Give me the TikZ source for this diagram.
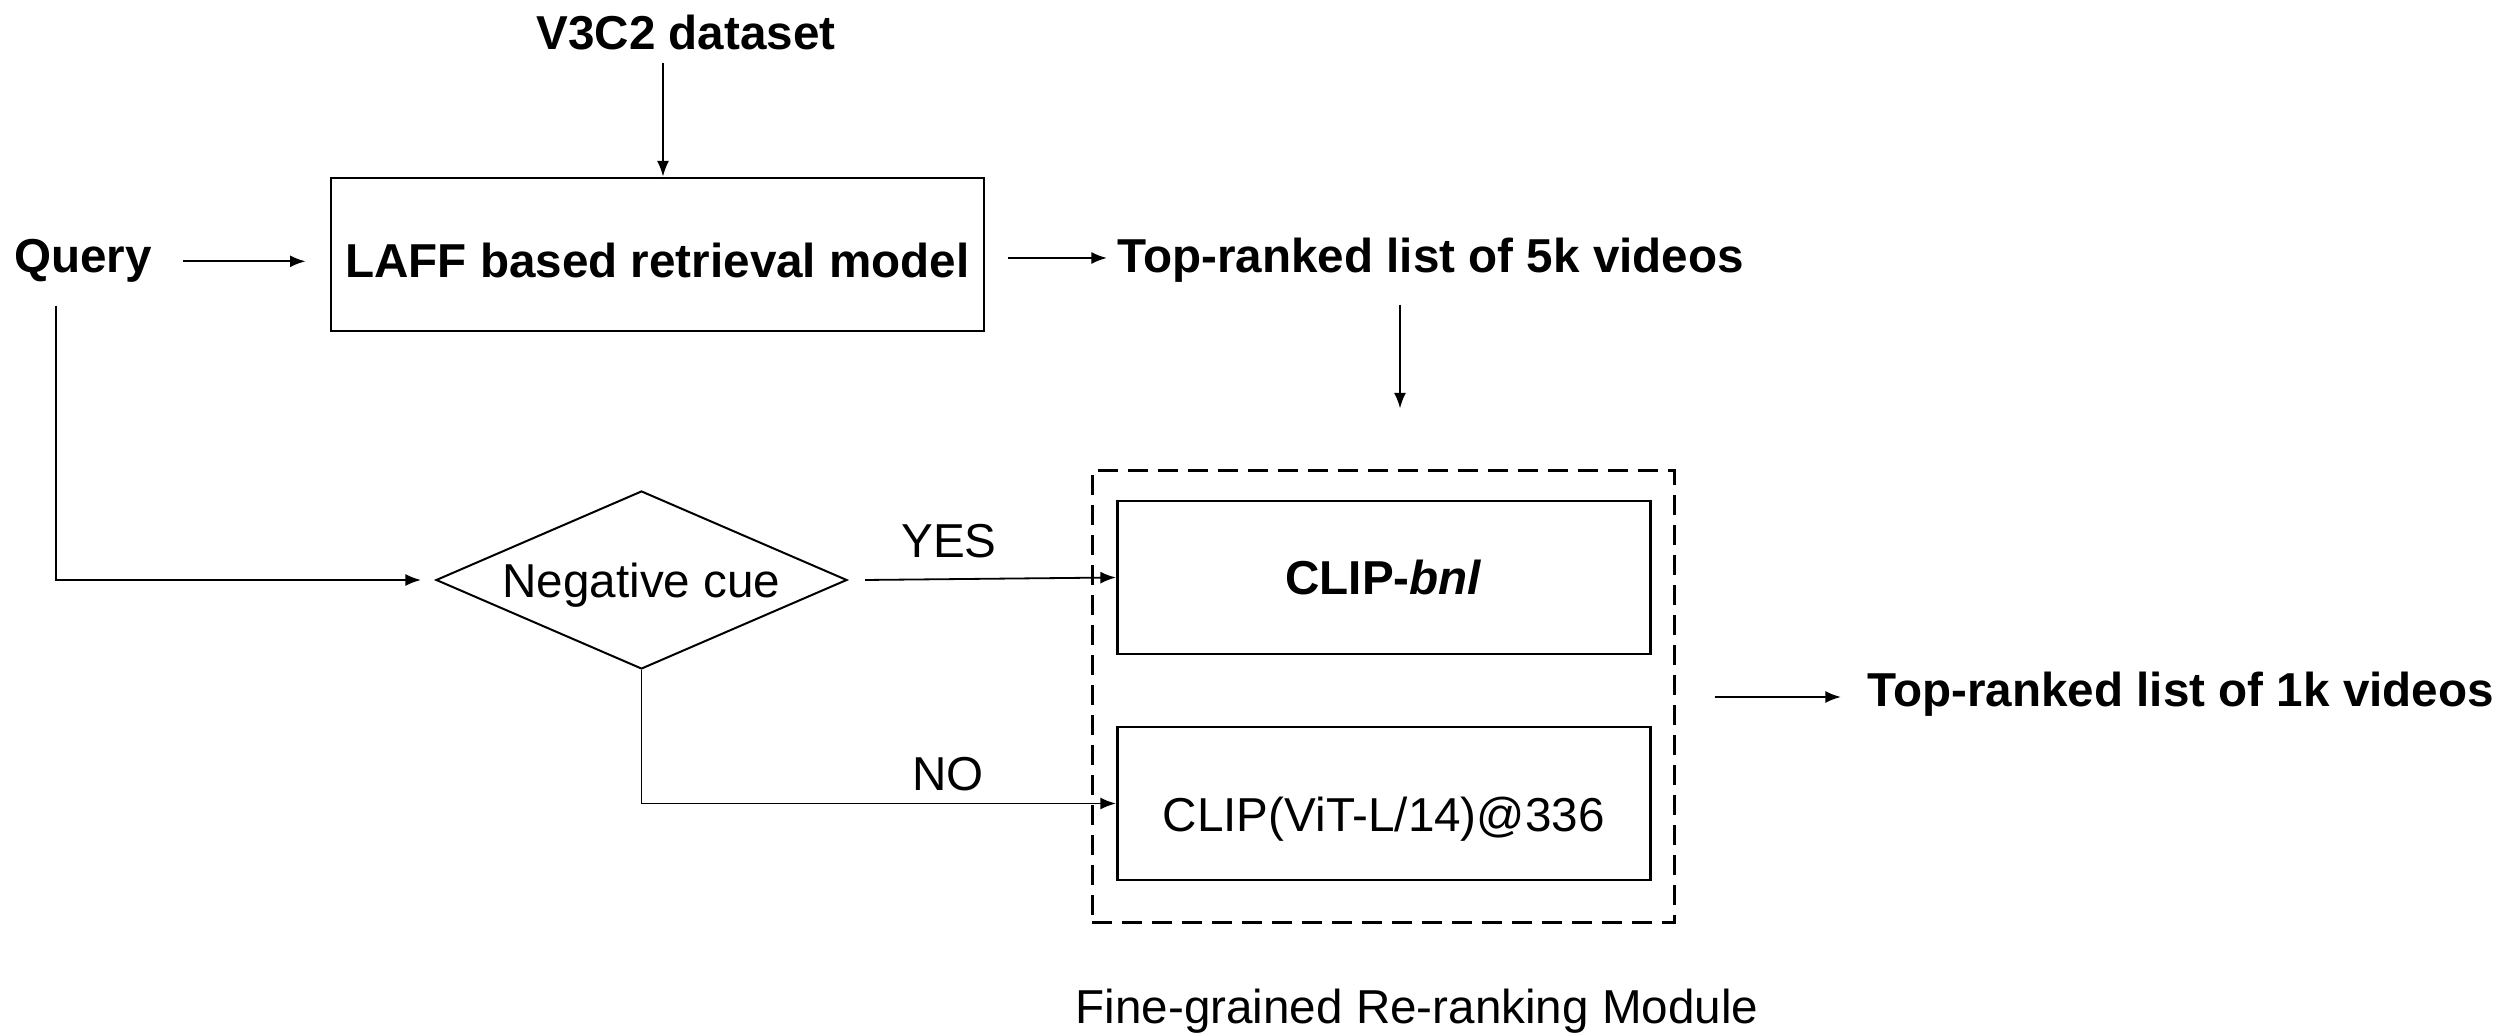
\documentclass[tikz,border=0pt]{standalone}
\usepackage{fontspec}
\setmainfont{Liberation Sans}
\usetikzlibrary{shapes.geometric,arrows.meta,calc}
\newcommand\fsz{\fontsize{11.9}{14.3}\selectfont}
\begin{document}
\begin{tikzpicture}[x=0.25pt,y=-0.25pt,
  font=\fsz,
  txt/.style={inner sep=0pt, anchor=base},
  bold/.style={font=\fsz\bfseries},
  box/.style={draw, line width=0.7pt, rectangle, inner sep=0pt},
  arr/.style={-{Latex[length=3.9pt,width=3pt]}, line width=0.5pt},
  thinline/.style={line width=0.45pt}]
\useasboundingbox (0,0) rectangle (2506,1034);

% nodes
\node[txt, bold] (v3c2) at (686,50) {V3C2 dataset};
\node[txt, bold] (query) at (83,273) {Query};
\node[box, bold, text height=11.3pt, text depth=0pt, minimum width=163.25pt, minimum height=38.25pt] (laff) at (657.5,254.5) {LAFF based retrieval model};
\node[txt, bold, anchor=base west] (top5k) at (1117,273) {Top-ranked list of 5k videos};
\node[draw, line width=0.75pt, dash pattern=on 5pt off 2.5pt, inner sep=0pt, minimum width=145.5pt, minimum height=113pt] (fg) at (1383,697) {};
\node[box, line width=0.65pt, text depth=0pt, minimum width=133.25pt, minimum height=38.25pt] (bnl) at (1383.75,577.5) {\textbf{CLIP-\textit{bnl}}};
\node[box, line width=0.65pt, text height=14pt, text depth=0pt, minimum width=133.25pt, minimum height=38.25pt] (vit) at (1383.75,803.5) {CLIP(ViT-L/14)@336};
\node[draw, diamond, aspect=2.3, inner sep=0pt, text depth=0pt, minimum width=102.75pt, minimum height=44.5pt, line width=0.5pt] (neg) at (641.5,580) {Negative cue};
\node[txt] (yes) at (949,558) {YES};
\node[txt] (no) at (948,791) {NO};
\node[txt, bold, anchor=base west] (top1k) at (1867,707) {Top-ranked list of 1k videos};
\node[txt] (fglabel) at (1417,1024) {Fine-grained Re-ranking Module};

% connectors
\draw[arr] ($(laff.north)+(5.5,-114)$) -- ($(laff.north)+(5.5,0)$);
\draw[arr] ($(query.east)+(30,0)$) -- ($(query.east -| laff.west)+(-24,0)$);
\draw[arr] ($(laff.east)+(23,3.5)$) -- ($(top5k.west |- laff.east)+(-10,3.5)$);
\draw[arr] ($(top5k.south -| fg.north)+(17,21)$) -- ($(fg.north)+(17,-61)$);
\draw[arr, thinline] ($(query.south)+(-27,22)$) |- ($(neg.west)+(-14,0)$);
\draw[arr, thinline] ($(neg.east)+(17,0)$) -- (bnl.west);
\draw[arr, thinline] (neg.south) |- (vit.west);
\draw[arr] ($(fg.east)+(39,0)$) -- ($(fg.east -| top1k.west)+(-26,0)$);
\end{tikzpicture}
\end{document}
